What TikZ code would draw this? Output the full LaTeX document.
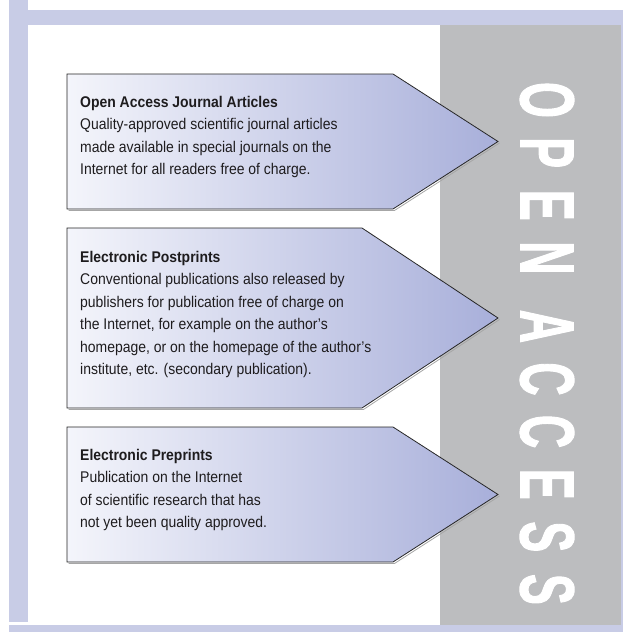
\documentclass[tikz,border=0pt]{standalone}
\usepackage{fontspec}
\setmainfont{Liberation Sans}[FakeStretch=0.9]
\newfontfamily\bigfont{Liberation Sans}[FakeStretch=0.6, FakeBold=1.2]
\definecolor{framecol}{RGB}{200,204,230}
\definecolor{panelcol}{RGB}{188,189,191}
\definecolor{boxleft}{RGB}{244,245,251}
\definecolor{boxright}{RGB}{168,175,218}
\definecolor{txtcol}{RGB}{30,28,30}
\tikzset{
  arrowbox/.style={left color=boxleft, right color=boxright, draw=black!85, line width=0.8pt, line join=miter},
  boxshadow/.style={draw=black!35, line width=0.8pt, line join=miter},
  boxtext/.style={anchor=north west, inner sep=0pt, align=left, text=txtcol,
    font=\fontsize{15.5}{22.5}\selectfont},
  bigletter/.style={rotate=-90, text=white, inner sep=0pt, font=\bigfont\bfseries\fontsize{77}{77}\selectfont}
}
\begin{document}
\begin{tikzpicture}[x=1pt,y=-1pt]
\useasboundingbox (0,0) rectangle (623,632);
% frame
\fill[framecol] (9,0) rectangle (28,622);
\fill[framecol] (28,10) rectangle (623,25);
\fill[framecol] (9,625) rectangle (623,632);
\fill[panelcol] (440,25) rectangle (621,625);
\fill[framecol] (621,25) rectangle (623,625);
% arrow boxes (light shadow, then shaded box)
\draw[boxshadow] (68.5,210.5) -- (394.5,210.5) -- (499.5,143);
\draw[boxshadow] (68.5,409.5) -- (363.5,409.5) -- (499.5,319.5);
\draw[boxshadow] (68.5,563.5) -- (394.5,563.5) -- (499.5,496);
\path[arrowbox] (67,74) -- (393,74) -- (498,141.5) -- (393,209) -- (67,209) -- cycle;
\path[arrowbox] (67,228) -- (362,228) -- (498,318) -- (362,408) -- (67,408) -- cycle;
\path[arrowbox] (67,427) -- (393,427) -- (498,494.5) -- (393,562) -- (67,562) -- cycle;
% texts
\node[boxtext] (t1) at (80,96) {\textbf{Open Access Journal Articles}\\
Quality-approved scientific journal articles\\
made available in special journals on the\\
Internet for all readers free of charge.};
\node[boxtext] (t2) at (80,251) {\textbf{Electronic Postprints}\\
Conventional publications also released by\\
publishers for publication free of charge on\\
the Internet, for example on the author's\\
homepage, or on the homepage of the author's\\
institute, etc. (secondary publication).};
\node[boxtext] (t3) at (80,449) {\textbf{Electronic Preprints}\\
Publication on the Internet\\
of scientific research that has\\
not yet been quality approved.};
% OPEN ACCESS
\foreach \l/\yy [count=\i] in {O/100, P/152.6, E/205.2, N/257.8, A/326.4, C/379, C/431.6, E/484.2, S/536.8, S/589.4}
  \node[bigletter] (L\i) at (547,\yy) {\l};
\end{tikzpicture}
\end{document}
